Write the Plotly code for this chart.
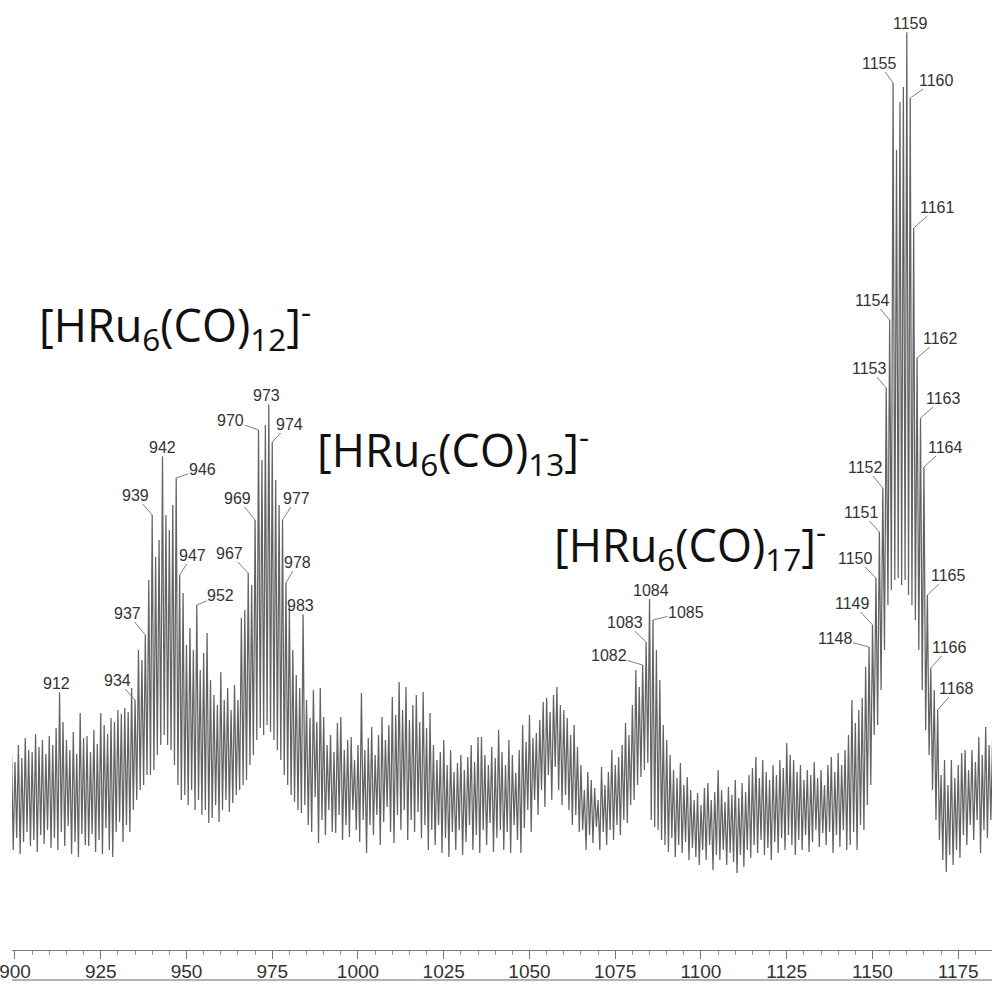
import plotly.graph_objects as go

# ---------------- data ----------------
MASS_START = 898  # first integer m/z of the series
# peak-top intensities at integer m/z (898 ... 1184), arbitrary units
peak_intensity = [
    195, 188, 205, 192, 212, 200, 198, 216, 203, 210,
    196, 214, 205, 222, 257, 228, 210, 200, 218, 196,
    237, 212, 214, 198, 220, 206, 237, 225, 216, 232,
    228, 240, 236, 242, 238, 262, 250, 300, 290, 315,
    370, 435, 393, 410, 493, 435, 420, 445, 472, 375,
    357, 305, 322, 300, 345, 280, 297, 317, 270, 255,
    245, 278, 250, 262, 240, 265, 250, 332, 340, 377,
    365, 430, 520, 490, 525, 545, 508, 470, 445, 430,
    367, 345, 300, 275, 262, 335, 250, 232, 260, 228,
    262, 233, 205, 215, 198, 227, 233, 200, 210, 213,
    190, 205, 257, 200, 212, 223, 195, 215, 233, 210,
    225, 253, 235, 268, 240, 263, 230, 245, 255, 228,
    258, 222, 237, 205, 190, 198, 210, 185, 200, 178,
    187, 195, 180, 193, 205, 188, 213, 213, 195, 185,
    203, 192, 220, 198, 185, 210, 195, 177, 200, 225,
    208, 235, 212, 217, 230, 248, 252, 238, 255, 263,
    245, 240, 232, 215, 225, 203, 185, 160, 178, 170,
    162, 150, 183, 165, 178, 200, 185, 193, 205, 227,
    215, 245, 280, 263, 285, 308, 351, 330, 300, 270,
    225, 210, 195, 180, 172, 187, 165, 173, 160, 150,
    157, 145, 162, 167, 150, 158, 180, 160, 148, 163,
    155, 170, 152, 167, 158, 175, 182, 193, 172, 190,
    178, 170, 185, 175, 190, 182, 207, 195, 190, 178,
    185, 170, 180, 175, 188, 172, 180, 165, 185, 193,
    178, 197, 185, 200, 215, 250, 227, 240, 252, 283,
    303, 325, 372, 418, 462, 562, 630, 867, 800, 848,
    863, 917, 852, 722, 592, 532, 483, 355, 282, 260,
    240, 175, 190, 165, 190, 172, 185, 197, 200, 180,
    200, 188, 213, 195, 223, 205, 210,
]
# valley intensities between neighbouring peaks (898.5 ... 1184.5)
valley_intensity = [
    100, 112, 96, 108, 118, 104, 110, 98, 115, 106,
    120, 102, 112, 100, 118, 104, 124, 96, 108, 93,
    116, 105, 104, 116, 98, 110, 96, 122, 100, 93,
    118, 128, 108, 125, 118, 140, 150, 160, 165, 175,
    175, 180, 195, 205, 215, 205, 200, 185, 165, 150,
    155, 145, 160, 140, 150, 135, 140, 127, 132, 145,
    128, 140, 150, 138, 147, 155, 160, 165, 170, 185,
    195, 210, 222, 215, 225, 218, 210, 200, 190, 175,
    165, 155, 148, 140, 137, 145, 125, 118, 153, 107,
    130, 115, 140, 118, 117, 135, 110, 125, 113, 140,
    120, 108, 130, 97, 125, 115, 135, 105, 128, 143,
    118, 107, 135, 120, 140, 110, 130, 118, 138, 112,
    125, 100, 120, 105, 125, 97, 112, 93, 118, 100,
    120, 95, 108, 125, 100, 115, 97, 120, 105, 127,
    98, 112, 120, 100, 118, 97, 125, 110, 97, 122,
    140, 118, 150, 135, 160, 143, 175, 150, 183, 160,
    145, 155, 140, 125, 135, 118, 120, 100, 115, 107,
    123, 100, 118, 105, 120, 110, 125, 115, 130, 127,
    145, 150, 165, 173, 180, 187, 130, 123, 120, 110,
    105, 98, 112, 93, 105, 97, 108, 90, 102, 93,
    85, 100, 90, 105, 80, 95, 90, 100, 85, 97,
    88, 77, 95, 83, 100, 92, 105, 97, 110, 95,
    102, 90, 108, 97, 112, 100, 115, 105, 95, 110,
    100, 115, 98, 108, 120, 103, 117, 105, 118, 97,
    115, 103, 120, 100, 105, 118, 100, 125, 120, 145,
    165, 215, 225, 260, 300, 345, 360, 370, 372, 365,
    370, 355, 345, 330, 300, 260, 220, 195, 160, 130,
    110, 90, 78, 95, 85, 100, 92, 115, 105, 125,
    110, 130, 97, 120, 112, 130, 115,
]
# labelled peaks (m/z)
label_masses = [912, 934, 937, 939, 942, 946, 947, 952,
                967, 969, 970, 973, 974, 977, 978, 983,
                1082, 1083, 1084, 1085,
                1148, 1149, 1150, 1151, 1152, 1153, 1154, 1155,
                1159, 1160, 1161, 1162, 1163, 1164, 1165, 1166, 1168]
ion_labels = ["[HRu<sub>6</sub>(CO)<sub>12</sub>]<sup>-</sup>",
              "[HRu<sub>6</sub>(CO)<sub>13</sub>]<sup>-</sup>",
              "[HRu<sub>6</sub>(CO)<sub>17</sub>]<sup>-</sup>"]
tick_values = [900, 925, 950, 975, 1000, 1025, 1050, 1075, 1100, 1125, 1150, 1175]

assert len(peak_intensity) == len(valley_intensity) == 1184 - MASS_START + 1

# ---------------- layout / style ----------------
MASS_OFFSET = 1.0  # m/z calibration shift of the recorded trace vs the printed axis
label_offsets = {   # (dx, dy) in pixels from peak top to label centre
    912: (-3, -10), 934: (-18, -20), 937: (-18, -22), 939: (-17, -20),
    942: (0, -10), 946: (26, -9), 947: (13, -20), 952: (24, -10),
    967: (-19, -20), 969: (-18, -22), 970: (-28, -10), 973: (-2, -10),
    974: (17, -18), 977: (14, -22), 978: (12, -21), 983: (-3, -10),
    1082: (-34, -10), 1083: (-21, -20), 1084: (1, -9), 1085: (33, -8),
    1148: (-34, -9), 1149: (-20, -22), 1150: (-20, -20), 1151: (-18, -20),
    1152: (-17, -21), 1153: (-17, -20), 1154: (-17, -20), 1155: (-14, -20),
    1159: (4, -10), 1160: (26, -18), 1161: (24, -21), 1162: (23, -20),
    1163: (23, -20), 1164: (22, -20), 1165: (21, -20), 1166: (19, -21),
    1168: (19, -22),
}
ion_label_pos = [(0.0255, 0.619), (0.309, 0.487), (0.551, 0.387)]  # paper coords

xs, ys = [], []
for i, (p, v) in enumerate(zip(peak_intensity, valley_intensity)):
    m = MASS_START + i
    xs += [m + MASS_OFFSET, m + 0.5 + MASS_OFFSET]
    ys += [p, v]

fig = go.Figure()
fig.add_trace(go.Scatter(x=xs, y=ys, mode="lines",
                         line=dict(color="#636363", width=1.25),
                         hoverinfo="skip", showlegend=False))

annotations = []
for m in label_masses:
    dx, dy = label_offsets[m]
    annotations.append(dict(
        x=m + MASS_OFFSET, y=peak_intensity[m - MASS_START], xref="x", yref="y",
        text=str(m), showarrow=True, arrowhead=0, arrowwidth=1,
        arrowcolor="#808080", ax=dx, ay=dy, standoff=0, startstandoff=0,
        borderpad=0,
        font=dict(family="Liberation Sans, Arial, sans-serif", size=16, color="#333333")))
for txt, (px_, py_) in zip(ion_labels, ion_label_pos):
    annotations.append(dict(
        x=px_, y=py_, xref="paper", yref="paper", text=txt, showarrow=False,
        xanchor="left", yanchor="bottom",
        font=dict(family="Open Sans, sans-serif", size=45, color="#111111")))

fig.update_layout(
    width=992, height=987,
    margin=dict(l=12, r=0, t=0, b=37),
    paper_bgcolor="white", plot_bgcolor="white",
    annotations=annotations,
    shapes=[dict(type="line", xref="paper", yref="paper", x0=0, x1=1.02,
                 y0=-0.0316, y1=-0.0316, line=dict(color="#9a9a9a", width=1.5))],
)
fig.update_xaxes(range=[899.13, 1184.84], showgrid=False, zeroline=False,
                 showline=True, linecolor="#7a7a7a", linewidth=1,
                 tickmode="array", tickvals=tick_values,
                 ticks="outside", ticklen=8, tickcolor="#7a7a7a", tickwidth=1,
                 ticklabeloverflow="allow", ticklabelstandoff=-4,
                 minor=dict(dtick=5, tick0=900, ticks="outside", ticklen=4,
                            tickcolor="#8a8a8a", showgrid=False),
                 tickfont=dict(family="Liberation Sans, Arial, sans-serif", size=19, color="#333333"),
                 fixedrange=True)
fig.update_yaxes(range=[0, 950], visible=False, fixedrange=True)

fig.write_html("out.html")
